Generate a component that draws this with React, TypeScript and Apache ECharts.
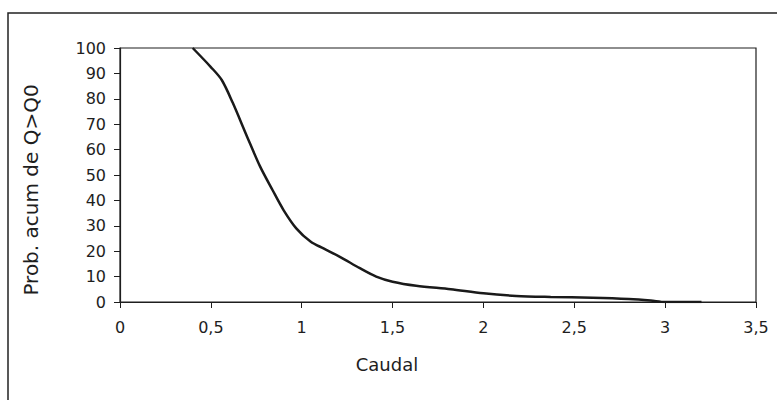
import React, { useEffect, useRef } from "react";
import * as echarts from "echarts";

// Curva de caudales clasificados: caudal (m3/s) y probabilidad acumulada de Q > Q0 (%)
const caudal = [0.4, 0.5, 0.56, 0.62, 0.7, 0.77, 0.84, 0.9, 0.97, 1.05, 1.12, 1.21, 1.32, 1.41, 1.5, 1.63, 1.82, 2.0, 2.18, 2.37, 2.6, 2.8, 2.92, 3.0, 3.2];
const prob = [100, 92.5, 87.4, 78.5, 65, 53.5, 44, 36.2, 29, 23.7, 21.1, 17.8, 13.3, 10, 8, 6.4, 5, 3.4, 2.4, 2, 1.7, 1.2, 0.6, 0, 0];

const xRange = [0, 3.5];
const xStep = 0.5;
const yRange = [0, 100];
const yStep = 10;

const xTitle = "Caudal";
const yTitle = "Prob. acum de Q>Q0";

const FONT = "DejaVu Sans";
const INK = "#1e1e1e";

export default function App() {
  const ref = useRef<HTMLDivElement>(null);

  useEffect(() => {
    if (!ref.current) return;
    const chart = echarts.init(ref.current, undefined, { renderer: "svg" });
    const points = caudal.map((q, i) => [q, prob[i]]);

    chart.setOption({
      animation: false,
      backgroundColor: "#ffffff",
      grid: {
        left: 120,
        top: 48,
        right: 21,
        bottom: 98,
        show: true,
        borderColor: INK,
        borderWidth: 1.2,
        backgroundColor: "#ffffff",
      },
      xAxis: {
        type: "value",
        min: xRange[0],
        max: xRange[1],
        interval: xStep,
        axisLine: { show: true, lineStyle: { color: INK, width: 1.2 } },
        axisTick: { show: true, inside: false, length: 6, lineStyle: { color: INK } },
        splitLine: { show: false },
        axisLabel: {
          color: INK,
          fontFamily: FONT,
          fontSize: 16,
          margin: 17,
          formatter: (v: number) => String(v).replace(".", ","),
        },
      },
      yAxis: {
        type: "value",
        min: yRange[0],
        max: yRange[1],
        interval: yStep,
        axisLine: { show: true, lineStyle: { color: INK, width: 1.2 } },
        axisTick: { show: true, inside: false, length: 6, lineStyle: { color: INK } },
        splitLine: { show: false },
        axisLabel: {
          color: INK,
          fontFamily: FONT,
          fontSize: 16,
          margin: 14,
        },
      },
      graphic: [
        {
          type: "rect",
          z: -10,
          silent: true,
          shape: { x: 8, y: 13, width: 820, height: 420 },
          style: { fill: "none", stroke: "#222222", lineWidth: 1.5 },
        },
        {
          type: "text",
          x: 387,
          y: 364,
          style: {
            text: xTitle,
            fill: INK,
            font: `18px "${FONT}"`,
            textAlign: "center",
            textVerticalAlign: "middle",
          },
        },
        {
          type: "text",
          x: 31,
          y: 190,
          rotation: Math.PI / 2,
          style: {
            text: yTitle,
            fill: INK,
            font: `20px "${FONT}"`,
            textAlign: "center",
            textVerticalAlign: "middle",
          },
        },
      ],
      series: [
        {
          type: "line",
          data: points,
          smooth: 0.3,
          showSymbol: false,
          lineStyle: { color: "#1a1a1a", width: 2.5 },
        },
      ],
    });

    return () => chart.dispose();
  }, []);

  return (
    <div
      ref={ref}
      style={{ position: "fixed", left: 0, top: 0, width: 777, height: 400 }}
    />
  );
}
